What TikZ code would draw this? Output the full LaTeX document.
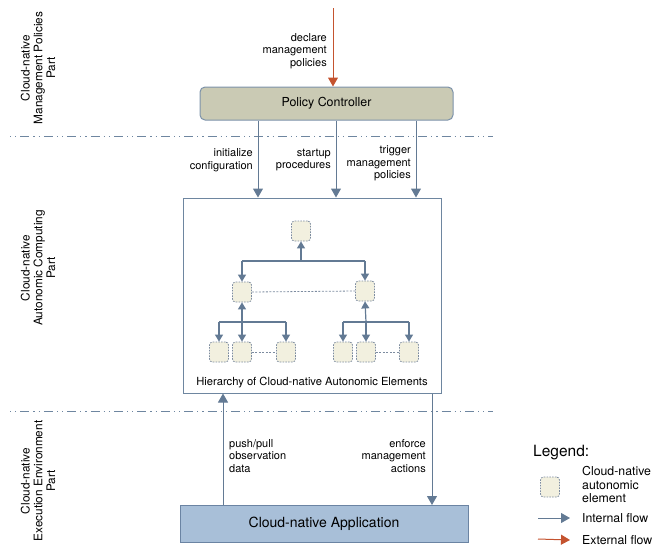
\documentclass[tikz,border=0pt]{standalone}
\usepackage{fontspec}
\setmainfont{TeX Gyre Heros}
\usetikzlibrary{arrows.meta}
\definecolor{flowc}{HTML}{637A94}
\definecolor{extc}{HTML}{C4532F}
\definecolor{sepc}{HTML}{6E86A0}
\definecolor{pcfill}{HTML}{CACAB4}
\definecolor{pcdraw}{HTML}{7C92AA}
\definecolor{elfill}{HTML}{F2F0DF}
\definecolor{eldraw}{HTML}{7D8CA0}
\definecolor{appfill}{HTML}{A8BFD8}
\definecolor{appdraw}{HTML}{6B84A3}
\tikzset{
  intarr/.style={draw=flowc, line width=1pt, -{Triangle[width=10pt,length=9pt]}},
  extarr/.style={draw=extc, line width=1pt, -{Triangle[width=10pt,length=9pt]}},
  treearr/.style={draw=flowc, line width=1.2pt, -{Triangle[width=8pt,length=7pt]}},
  treeline/.style={draw=flowc, line width=1.2pt},
  dotlink/.style={draw=eldraw, line width=0.8pt, dash pattern=on 2pt off 1.5pt},
  sepline/.style={draw=sepc, line width=0.8pt, dash pattern=on 1.2pt off 4pt on 1.2pt off 4pt on 9pt off 4pt},
  elem/.style={draw=eldraw, fill=elfill, line width=0.8pt, dash pattern=on 1.6pt off 1.2pt, rounded corners=3pt, minimum width=19pt, minimum height=20pt, inner sep=0pt},
  pcbox/.style={draw=pcdraw, fill=pcfill, line width=1pt, rounded corners=5pt, minimum width=253pt, minimum height=33pt, font=\fontsize{12.4}{14}\selectfont},
  hbox/.style={draw=sepc, fill=white, line width=1pt, minimum width=258pt, minimum height=195pt},
  appbox/.style={draw=appdraw, fill=appfill, line width=1pt, minimum width=288pt, minimum height=37pt, font=\fontsize{14}{16}\selectfont},
  lbl/.style={font=\fontsize{11}{12.7}\selectfont, inner sep=0pt},
  leglbl/.style={font=\fontsize{12.3}{13.6}\selectfont, inner sep=0pt},
  side/.style={rotate=90, align=center, font=\fontsize{11.8}{12.8}\selectfont, inner sep=0pt},
}
\begin{document}
\begin{tikzpicture}[x=1pt,y=-1pt]
\useasboundingbox (0,0) rectangle (667,547);

% separators
\draw[sepline] (10,136) -- (493,136);
\draw[sepline] (10,411) -- (493,411);

% side labels
\node[side] (s1) at (38,68) {Cloud-native\\Management Policies\\Part};
\node[side] (s2) at (38,268) {Cloud-native\\Autonomic Computing\\Part};
\node[side] (s3) at (38,481) {Cloud-native\\Execution Environment\\Part};

% main boxes
\node[pcbox] (pc) at (326.5,103.5) {Policy Controller};
\node[hbox] (hb) at (312,295.5) {};
\node[font=\fontsize{11.2}{13}\selectfont, inner sep=0pt] (hlab) at (312,383) {Hierarchy of Cloud-native Autonomic Elements};
\node[appbox] (app) at (324,524) {Cloud-native Application};

% external input
\coordinate (ein) at (333,8);
\draw[extarr] (ein) -- (ein |- pc.north);
\node[lbl, align=right, anchor=east] (decl) at (327,51) {declare\\management\\policies};

% policy controller arrows
\coordinate (a1) at (258,0);
\coordinate (a2) at (336,0);
\coordinate (a3) at (416,0);
\draw[intarr] (pc.south -| a1) -- (hb.north -| a1);
\draw[intarr] (pc.south -| a2) -- (hb.north -| a2);
\draw[intarr] (pc.south -| a3) -- (hb.north -| a3);
\node[lbl, align=right, anchor=east] (l1) at (253,160) {initialize\\configuration};
\node[lbl, align=right, anchor=east] (l2) at (331,160) {startup\\procedures};
\node[lbl, align=right, anchor=east] (l3) at (411,163.5) {trigger\\management\\policies};

% application arrows
\coordinate (b1) at (223,0);
\coordinate (b2) at (432,0);
\draw[intarr] (app.north -| b1) -- (hb.south -| b1);
\draw[intarr] (hb.south -| b2) -- (app.north -| b2);
\node[lbl, align=left, anchor=west] (l4) at (229,456) {push/pull\\observation\\data};
\node[lbl, align=right, anchor=east] (l5) at (426,456) {enforce\\management\\actions};

% hierarchy elements
\node[elem] (top) at (301,231) {};
\node[elem] (ml) at (242,292) {};
\node[elem] (mr) at (365,291) {};
\node[elem] (b11) at (219,352) {};
\node[elem] (b12) at (242,352) {};
\node[elem] (b13) at (286,352) {};
\node[elem] (b21) at (343,352) {};
\node[elem] (b22) at (366,352) {};
\node[elem] (b23) at (409,352) {};

% tree level 1
\coordinate (j0) at (301,261);
\coordinate (j0l) at (242,261);
\coordinate (j0r) at (365,261);
\draw[treeline] (j0l) -- (j0r);
\draw[treearr] (j0) -- (top.south);
\draw[treearr] (j0l) -- (ml.north);
\draw[treearr] (j0r) -- (mr.north);

% tree level 2 left
\coordinate (j1) at (242,322);
\coordinate (j1l) at (219,322);
\coordinate (j1r) at (286,322);
\draw[treeline] (j1l) -- (j1r);
\draw[treearr] (j1) -- (ml.south);
\draw[treearr] (j1l) -- (b11.north);
\draw[treearr] (j1) -- (b12.north);
\draw[treearr] (j1r) -- (b13.north);

% tree level 2 right
\coordinate (j2) at (366,322);
\coordinate (j2l) at (343,322);
\coordinate (j2r) at (409,322);
\draw[treeline] (j2l) -- (j2r);
\draw[treearr] (j2) -- (mr.south);
\draw[treearr] (j2l) -- (b21.north);
\draw[treearr] (j2) -- (b22.north);
\draw[treearr] (j2r) -- (b23.north);

% dotted peer links
\draw[dotlink] (ml.east) -- (mr.west);
\draw[dotlink] (b12.east) -- (b13.west);
\draw[dotlink] (b22.east) -- (b23.west);

% legend
\node[font=\fontsize{15.5}{17}\selectfont, inner sep=0pt, anchor=west] (leg) at (533,453) {Legend:};
\node[elem] (legel) at (550,487) {};
\node[leglbl, align=left, anchor=west] (legeltxt) at (582,484.5) {Cloud-native\\autonomic\\element};
\coordinate (li0) at (538,518);
\coordinate (le0) at (538,539);
\node[leglbl, anchor=west] (litxt) at (582,518) {Internal flow};
\node[leglbl, anchor=west] (letxt) at (582,540) {External flow};
\draw[intarr] (li0) -- ([xshift=-12pt]litxt.west);
\draw[extarr] (le0) -- ([xshift=-12pt]letxt.west);
\end{tikzpicture}
\end{document}
